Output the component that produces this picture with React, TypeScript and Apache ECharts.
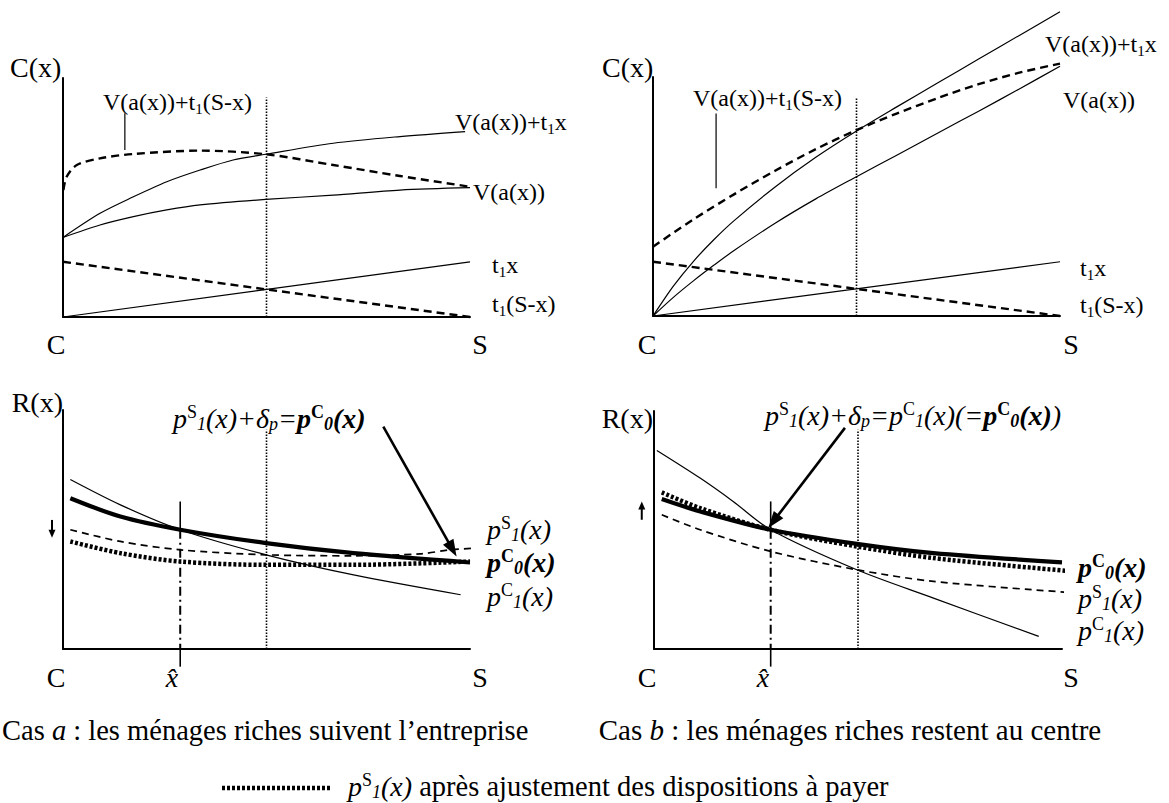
import React, { useEffect, useRef } from "react";
import * as echarts from "echarts";

type P = [number, number];

// ---------------- data (x: 0 = C, 10 = S; y in arbitrary units 0..10) ----------------
const X_MIN = 0;
const X_MAX = 10;
const Y_MIN = 0;
const Y_MAX = 10;
const X_MID = 5;

// Cas a, upper panel : C(x)
const aVt1x: P[] = [[0, 3.33], [0.91, 4.34], [1.73, 5.03], [2.55, 5.66], [3.37, 6.15], [4.18, 6.57], [4.98, 6.81], [6.64, 7.27], [8.28, 7.55], [9.88, 7.76]];
const aV: P[] = [[0, 3.33], [0.91, 3.85], [1.73, 4.2], [2.55, 4.48], [3.37, 4.69], [4.98, 4.92], [6.64, 5.1], [8.28, 5.31], [10, 5.41]];
const aVt1Sx: P[] = [[0.01, 5.31], [0.09, 5.87], [0.34, 6.36], [0.91, 6.64], [1.73, 6.82], [3.37, 6.96], [4.98, 6.81], [6.64, 6.36], [8.28, 5.9], [10, 5.45]];
const aT1x: P[] = [[0, 0], [10, 2.31]];
const aT1Sx: P[] = [[0, 2.31], [10, 0]];
const aMid: P[] = [[X_MID, 0], [X_MID, 9.18]];
const aLeader: P[] = [[1.52, 6.99], [1.52, 8.52]];

// Cas b, upper panel : C(x)
const bVt1x: P[] = [[0, 0], [0.5, 1.25], [1, 2.3], [1.5, 3.2], [2, 4.0], [3, 5.4], [4, 6.64], [5, 7.74], [6, 8.76], [7, 9.76], [8, 10.75], [9, 11.74], [10, 12.73]];
const bV: P[] = [[0, 0], [0.5, 0.78], [1, 1.48], [1.5, 2.13], [2, 2.75], [3, 3.88], [4, 4.9], [5, 5.83], [6, 6.74], [7, 7.66], [8, 8.57], [9, 9.5], [10, 10.45]];
const bVt1Sx: P[] = [[0, 2.9], [1, 4.05], [2, 5.1], [3, 6.08], [4, 6.98], [5, 7.78], [6, 8.48], [7, 9.12], [8, 9.7], [9, 10.18], [10, 10.56]];
const bT1x: P[] = [[0, 0], [10, 2.27]];
const bT1Sx: P[] = [[0, 2.27], [10, 0]];
const bMid: P[] = [[X_MID, 0], [X_MID, 9.16]];
const bLeader: P[] = [[1.55, 5.34], [1.55, 8.47]];

// Cas a, lower panel : R(x)
const cPC1: P[] = [[0.18, 7.09], [1.41, 6.03], [2.88, 4.99], [4.99, 3.94], [7.14, 3.1], [9.77, 2.27]];
const cPC0: P[] = [[0.18, 6.31], [1.41, 5.54], [2.88, 4.99], [4.99, 4.43], [7.14, 4.01], [10, 3.62]];
const cPS1: P[] = [[0.18, 4.99], [1.41, 4.5], [2.88, 4.15], [4.99, 3.94], [7.14, 3.9], [8.77, 3.98], [9.51, 4.15], [10.15, 4.22]];
const cPS1adj: P[] = [[0.18, 4.5], [1.41, 4.01], [2.88, 3.66], [4.99, 3.52], [7.14, 3.52], [10, 3.66]];
const cMid: P[] = [[X_MID, 0], [X_MID, 9.17]];
const cHatTop: P[] = [[2.88, 6.17], [2.88, 4.99]];
const cHatDash: P[] = [[2.88, 4.99], [2.88, 0]];
const cHatLow: P[] = [[2.88, 0], [2.88, -0.74]];
const cSTop: P[] = [[10.15, 5.19], [10.15, 4.27]];
const cSDash: P[] = [[10.15, 4.27], [10.15, -0.2]];
const cArrow: P[] = [[7.87, 9.3], [9.67, 3.87]];
const cShift: P[] = [[-0.27, 5.4], [-0.27, 4.65]];

// Cas b, lower panel : R(x)
const dPC1: P[] = [[0.07, 8.34], [1.13, 7.18], [1.94, 6.2], [2.86, 5.01], [4.97, 3.33], [6.85, 2.14], [9.43, 0.53]];
const dPC0: P[] = [[0.19, 6.3], [1.13, 5.78], [2.86, 5.01], [4.97, 4.42], [6.85, 4.03], [10, 3.64]];
const dPS1adj: P[] = [[0.19, 6.58], [1.13, 5.92], [2.86, 5.01], [4.97, 4.31], [6.85, 3.82], [10.08, 3.29]];
const dPS1: P[] = [[0.19, 5.64], [1.13, 5.01], [2.86, 4.1], [4.97, 3.33], [6.85, 2.84], [10.08, 2.39]];
const dMid: P[] = [[X_MID, 0], [X_MID, 9.21]];
const dHatTop: P[] = [[2.86, 6.2], [2.86, 5.01]];
const dHatDash: P[] = [[2.86, 5.01], [2.86, 0]];
const dHatLow: P[] = [[2.86, 0], [2.86, -0.74]];
const dSTop: P[] = [[10.12, 5.43], [10.12, 4.38]];
const dSDash: P[] = [[10.12, 4.38], [10.12, -0.2]];
const dArrow: P[] = [[4.68, 9.29], [2.8, 5.08]];
const dShift: P[] = [[-0.3, 5.43], [-0.3, 6.2]];

// texts
const captionA = "{cap|Cas }{capi|a}{cap| : les ménages riches suivent l’entreprise}";
const captionB = "{cap2|Cas }{capi2|b}{cap2| : les ménages riches restent au centre}";
const legendText = "{i|p}{sup|S}{sub|1}{i|(x)}{n| après ajustement des dispositions à payer}";
const formulaA = "{i|p}{sup|S}{sub|1}{i|(x)+δ}{sub2|p}{i|=}{ib|p}{supb|C}{subb|0}{ib|(x)}";
const formulaB = "{i|p}{sup|S}{sub|1}{i|(x)+δ}{sub2|p}{i|=p}{sup|C}{sub|1}{i|(x)(=}{ib|p}{supb|C}{subb|0}{ib|(x)}{i|)}";
const lblPS1 = "{i|p}{sup|S}{sub|1}{i|(x)}";
const lblPC0 = "{ib|p}{supb|C}{subb|0}{ib|(x)}";
const lblPC1 = "{i|p}{sup|C}{sub|1}{i|(x)}";
const lblVt1Sx = "{m|V(a(x))+t}{s|1}{m|(S-x)}";
const lblVt1x = "{m|V(a(x))+t}{s|1}{m|x}";
const lblV = "{m|V(a(x))}";
const lblT1x = "{m|t}{s|1}{m|x}";
const lblT1Sx = "{m|t}{s|1}{m|(S-x)}";

const FONT = "Liberation Serif";

const RICH: any = {
  m: { fontFamily: FONT, fontSize: 24, lineHeight: 28 },
  s: { fontFamily: FONT, fontSize: 15, lineHeight: 16, verticalAlign: "bottom" },
  i: { fontFamily: FONT, fontSize: 28, fontStyle: "italic", lineHeight: 30 },
  ib: { fontFamily: FONT, fontSize: 28, fontStyle: "italic", fontWeight: "bold", lineHeight: 30 },
  n: { fontFamily: FONT, fontSize: 28.5, lineHeight: 30 },
  sup: { fontFamily: FONT, fontSize: 18, lineHeight: 16, verticalAlign: "top" },
  supb: { fontFamily: FONT, fontSize: 18, fontWeight: "bold", lineHeight: 16, verticalAlign: "top" },
  sub: { fontFamily: FONT, fontSize: 18, fontStyle: "italic", lineHeight: 22, verticalAlign: "bottom" },
  subb: { fontFamily: FONT, fontSize: 18, fontStyle: "italic", fontWeight: "bold", lineHeight: 22, verticalAlign: "bottom" },
  sub2: { fontFamily: FONT, fontSize: 18, fontStyle: "italic", lineHeight: 16, verticalAlign: "bottom" },
  cap: { fontFamily: FONT, fontSize: 28.5, lineHeight: 32 },
  capi: { fontFamily: FONT, fontSize: 28.5, fontStyle: "italic", lineHeight: 32 },
  cap2: { fontFamily: FONT, fontSize: 29, lineHeight: 32 },
  capi2: { fontFamily: FONT, fontSize: 29, fontStyle: "italic", lineHeight: 32 },
  big: { fontFamily: FONT, fontSize: 28, lineHeight: 30 },
  bigi: { fontFamily: FONT, fontSize: 28, fontStyle: "italic", lineHeight: 30 },
};

function txt(x: number, y: number, text: string, align = "left") {
  return {
    type: "text",
    x,
    y,
    silent: true,
    style: { text, align, verticalAlign: "middle", fill: "#000", fontFamily: FONT, fontSize: 24, rich: RICH },
  };
}

const AXIS_LINE = { show: true, onZero: false, lineStyle: { color: "#000", width: 2 } };

function axis(g: number) {
  return {
    type: "value",
    gridIndex: g,
    axisLine: AXIS_LINE,
    axisTick: { show: false },
    axisLabel: { show: false },
    splitLine: { show: false },
  };
}

function L(g: number, data: P[], ls: any, smooth: number | boolean = 0.3, z = 2) {
  return {
    type: "line",
    xAxisIndex: g,
    yAxisIndex: g,
    data,
    symbol: "none",
    showSymbol: false,
    smooth,
    clip: false,
    silent: true,
    z,
    lineStyle: { color: "#000", cap: "butt", join: "round", ...ls },
  };
}

const thin = { width: 1.2, type: "solid" };
const dashBig = { width: 2.4, type: [8, 5] };
const dotV = { width: 1.6, type: [1.5, 1.5] };
const thick = { width: 4.2, type: "solid" };
const dotThick = { width: 4.5, type: [3, 2] };
const dashThin = { width: 1.7, type: [7, 5] };
const dashDot = { width: 2, type: [9, 4, 2, 4] };
const solidMed = { width: 1.6, type: "solid" };

export default function App() {
  const ref = useRef<HTMLDivElement>(null);
  useEffect(() => {
    if (!ref.current) return;
    const chart = echarts.init(ref.current, undefined, { renderer: "svg" });
    const grids = [
      { left: 63, top: 78, width: 407, height: 239 },
      { left: 653, top: 77, width: 407, height: 239 },
      { left: 63, top: 410, width: 407, height: 239 },
      { left: 654, top: 411, width: 408, height: 238 },
    ];
    const xAxis = [0, 1, 2, 3].map((g) => ({ ...axis(g), min: X_MIN, max: X_MAX }));
    const yAxis = [0, 1, 2, 3].map((g) => ({ ...axis(g), min: Y_MIN, max: Y_MAX }));
    const series: any[] = [
      // panel a top
      L(0, aVt1x, thin),
      L(0, aV, thin),
      L(0, aVt1Sx, dashBig),
      L(0, aT1x, thin, false),
      L(0, aT1Sx, dashBig, false),
      L(0, aMid, dotV, false),
      L(0, aLeader, thin, false),
      // panel b top
      L(1, bVt1x, thin),
      L(1, bV, thin),
      L(1, bVt1Sx, dashBig),
      L(1, bT1x, thin, false),
      L(1, bT1Sx, dashBig, false),
      L(1, bMid, dotV, false),
      L(1, bLeader, thin, false),
      // panel a bottom
      L(2, cPC1, thin),
      L(2, cPS1, dashThin),
      L(2, cPS1adj, dotThick),
      L(2, cPC0, thick, 0.3, 3),
      L(2, cMid, dotV, false),
      L(2, cHatTop, solidMed, false),
      L(2, cHatDash, dashDot, false),
      L(2, cHatLow, solidMed, false),
      L(2, cSTop, solidMed, false),
      L(2, cSDash, dashDot, false),
      // panel b bottom
      L(3, dPC1, thin),
      L(3, dPS1, dashThin),
      L(3, dPC0, thick, 0.3, 3),
      L(3, dPS1adj, dotThick, 0.3, 4),
      L(3, dMid, dotV, false),
      L(3, dHatTop, solidMed, false),
      L(3, dHatDash, dashDot, false),
      L(3, dHatLow, solidMed, false),
      L(3, dSTop, solidMed, false),
      L(3, dSDash, dashDot, false),
    ];
    chart.setOption({
      animation: false,
      backgroundColor: "#fff",
      grid: grids,
      xAxis,
      yAxis,
      series,
    });

    const px = (g: number, p: P) => chart.convertToPixel({ gridIndex: g } as any, p) as number[];
    const arrow = (g: number, seg: P[], lw: number, hl: number, hw: number) => {
      const a = px(g, seg[0]);
      const b = px(g, seg[1]);
      const dx = b[0] - a[0];
      const dy = b[1] - a[1];
      const len = Math.hypot(dx, dy);
      const ux = dx / len;
      const uy = dy / len;
      const bx = b[0] - ux * hl;
      const by = b[1] - uy * hl;
      return [
        { type: "line", silent: true, shape: { x1: a[0], y1: a[1], x2: bx + ux * 1, y2: by + uy * 1 }, style: { stroke: "#000", lineWidth: lw } },
        {
          type: "polygon",
          silent: true,
          shape: { points: [[b[0], b[1]], [bx - uy * hw / 2, by + ux * hw / 2], [bx + uy * hw / 2, by - ux * hw / 2]] },
          style: { fill: "#000" },
        },
      ];
    };

    const graphic: any[] = [
      ...arrow(2, cArrow, 2.6, 17, 12),
      ...arrow(3, dArrow, 2.6, 17, 12),
      ...arrow(2, cShift, 2, 8, 7),
      ...arrow(3, dShift, 2, 8, 7),
      // panel a top labels
      txt(10, 67, "{big|C(x)}"),
      txt(103, 102, lblVt1Sx),
      txt(455, 122, lblVt1x),
      txt(473, 192, lblV),
      txt(492, 265, lblT1x),
      txt(492, 304, lblT1Sx),
      txt(56, 344, "{big|C}", "center"),
      txt(480, 344, "{big|S}", "center"),
      // panel b top labels
      txt(602, 67, "{big|C(x)}"),
      txt(693, 98, lblVt1Sx),
      txt(1045, 44, lblVt1x),
      txt(1063, 100, lblV),
      txt(1080, 268, lblT1x),
      txt(1080, 305, lblT1Sx),
      txt(647, 344, "{big|C}", "center"),
      txt(1071, 344, "{big|S}", "center"),
      // panel a bottom labels
      txt(63, 402, "{big|R(x)}", "right"),
      txt(173, 418, formulaA),
      txt(487, 529, lblPS1),
      txt(487, 562, lblPC0),
      txt(487, 596, lblPC1),
      txt(56, 677, "{big|C}", "center"),
      txt(172, 677, "{bigi|x̂}", "center"),
      txt(480, 677, "{big|S}", "center"),
      // panel b bottom labels
      txt(653, 418, "{big|R(x)}", "right"),
      txt(765, 415, formulaB),
      txt(1078, 567, lblPC0),
      txt(1078, 598, lblPS1),
      txt(1078, 630, lblPC1),
      txt(647, 677, "{big|C}", "center"),
      txt(763, 677, "{bigi|x̂}", "center"),
      txt(1071, 677, "{big|S}", "center"),
      // captions
      txt(2, 730, captionA, "left"),
      txt(850, 730, captionB, "center"),
      {
        type: "line",
        silent: true,
        shape: { x1: 222, y1: 788, x2: 332, y2: 788 },
        style: { stroke: "#000", lineWidth: 4.5, lineDash: [3, 2] },
      },
      txt(348, 786, legendText),
    ];
    chart.setOption({ graphic });
    return () => chart.dispose();
  }, []);
  return <div ref={ref} style={{ position: "absolute", left: 0, top: 0, width: 1169, height: 803 }} />;
}
